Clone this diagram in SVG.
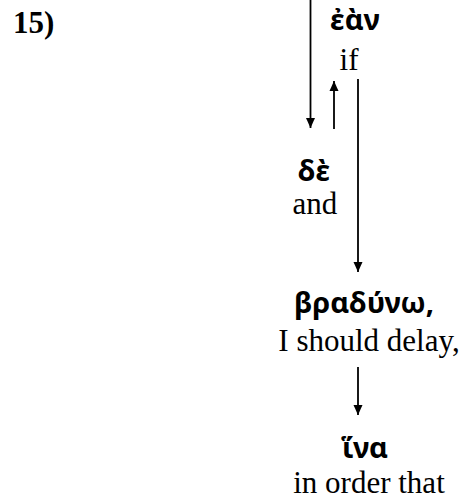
<svg xmlns="http://www.w3.org/2000/svg" width="468" height="499" viewBox="0 0 468 499">
  <defs>
    <marker id="head" viewBox="0 0 10 10" refX="10" refY="5" markerWidth="10" markerHeight="10" markerUnits="userSpaceOnUse" orient="auto">
      <path d="M0,0.5 L10,5 L0,9.5 Z" fill="#000"/>
    </marker>
    <style>
      .gr { font-family: "Noto Sans", "DejaVu Sans", sans-serif; font-weight: bold; font-size: 29px; fill: #000; text-anchor: middle; }
      .en { font-family: "Liberation Serif", "Times New Roman", serif; font-size: 31px; fill: #000; text-anchor: middle; }
      .num { font-family: "Liberation Serif", "Times New Roman", serif; font-weight: bold; font-size: 31px; fill: #000; }
      .conn { stroke: #000; stroke-width: 1.8; fill: none; }
    </style>
  </defs>
  <rect width="468" height="499" fill="#fff"/>

  <text class="num" x="13" y="33">15)</text>

  <!-- connectors between the clause nodes -->
  <g id="connectors">
    <line class="conn" x1="310.5" y1="-2" x2="310.5" y2="128" marker-end="url(#head)"/>
    <line class="conn" x1="334" y1="129" x2="334" y2="81" marker-end="url(#head)"/>
    <line class="conn" x1="358" y1="79" x2="358" y2="272" marker-end="url(#head)"/>
    <line class="conn" x1="358" y1="367" x2="358" y2="415" marker-end="url(#head)"/>
  </g>

  <g id="node-ean">
    <text class="gr" x="355" y="30">ἐὰν</text>
    <text class="en" x="349" y="70">if</text>
  </g>

  <g id="node-de">
    <text class="gr" x="314" y="181">δὲ</text>
    <text class="en" x="315" y="214">and</text>
  </g>

  <g id="node-bradyno">
    <text class="gr" x="364" y="313">βραδύνω,</text>
    <text class="en" x="369" y="351">I should delay,</text>
  </g>

  <g id="node-hina">
    <text class="gr" x="365" y="458">ἵνα</text>
    <text class="en" x="369" y="493">in order that</text>
  </g>
</svg>
